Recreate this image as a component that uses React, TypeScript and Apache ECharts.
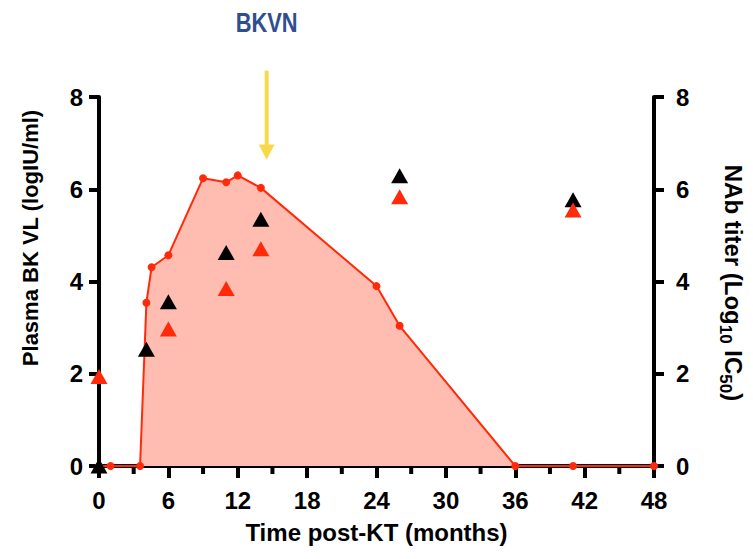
import React, { useEffect, useRef } from "react";
import * as echarts from "echarts";

// Plasma BK viral load (log IU/ml) over time post-KT (months)
const vlMonths = [0, 1, 3.55, 4.1, 4.55, 6, 9, 11, 12, 14, 24, 26, 36, 41, 48];
const vlLog = [0, 0, 0, 3.54, 4.31, 4.57, 6.24, 6.15, 6.3, 6.03, 3.9, 3.04, 0, 0, 0];

// NAb titers (log10 IC50)
const nabBlackMonths = [0, 4.1, 6, 11, 14, 26, 41];
const nabBlackValues = [0, 2.53, 3.56, 4.63, 5.35, 6.29, 5.77];
const nabRedMonths = [0, 6, 11, 14, 26, 41];
const nabRedValues = [1.94, 2.97, 3.85, 4.71, 5.84, 5.55];

const xTicks = [0, 6, 12, 18, 24, 30, 36, 42, 48];
const xMinorTicks = [3, 9, 15, 21, 27, 33, 39, 45];
const yTicks = [0, 2, 4, 6, 8];

const bkvnMonth = 14.5;

const FONT = "'Liberation Sans', Arial, Helvetica, sans-serif";
const RED = "#FF2A0A";
const FILL = "#FFBCB0";

export default function App() {
  const ref = useRef<HTMLDivElement>(null);
  useEffect(() => {
    const chart = echarts.init(ref.current!, null, { renderer: "svg" });
    const axisCommon = {
      type: "value",
      min: 0,
      max: 8,
      interval: 2,
      splitLine: { show: false },
      axisLine: { show: true, lineStyle: { color: "#000", width: 4 } },
      axisTick: { show: true, inside: false, length: 10, lineStyle: { color: "#000", width: 4 } },
      axisLabel: { fontFamily: FONT, fontWeight: "bold", fontSize: 24, color: "#000" },
    };
    const option: any = {
      animation: false,
      backgroundColor: "#fff",
      grid: { left: 99, right: 99, top: 97, bottom: 93 },
      xAxis: {
        type: "value",
        min: 0,
        max: 48,
        interval: 6,
        name: "Time post-KT (months)",
        nameLocation: "middle",
        nameGap: 54,
        nameTextStyle: { fontFamily: FONT, fontWeight: "bold", fontSize: 24, color: "#000" },
        splitLine: { show: false },
        axisLine: { show: true, onZero: false, lineStyle: { color: "#000", width: 4 } },
        axisTick: { show: true, inside: false, length: 12, lineStyle: { color: "#000", width: 4 } },
        axisLabel: {
          fontFamily: FONT,
          fontWeight: "bold",
          fontSize: 24,
          color: "#000",
          margin: 22,
          formatter: (v: number) => (xTicks.includes(v) ? String(v) : ""),
        },
      },
      yAxis: [
        { ...axisCommon, position: "left", axisLabel: { ...axisCommon.axisLabel, margin: 16, formatter: (v: number) => (yTicks.includes(v) ? String(v) : "") } },
        { ...axisCommon, position: "right", axisLabel: { ...axisCommon.axisLabel, margin: 22, formatter: (v: number) => (yTicks.includes(v) ? String(v) : "") } },
      ],
      series: [
        {
          name: "Plasma BK VL",
          type: "line",
          yAxisIndex: 0,
          clip: false,
          data: vlMonths.map((m, i) => [m, vlLog[i]]),
          symbol: "circle",
          symbolSize: 8,
          showSymbol: true,
          itemStyle: { color: RED },
          lineStyle: { color: RED, width: 2 },
          areaStyle: { color: FILL, opacity: 1 },
          z: 2,
        },
        {
          name: "NAb titer (black)",
          type: "scatter",
          yAxisIndex: 1,
          clip: false,
          data: nabBlackMonths.map((m, i) => [m, nabBlackValues[i]]),
          symbol: "triangle",
          symbolSize: [17, 15],
          itemStyle: { color: "#000", opacity: 1 },
          z: 4,
        },
        {
          name: "NAb titer (red)",
          type: "scatter",
          yAxisIndex: 1,
          clip: false,
          data: nabRedMonths.map((m, i) => [m, nabRedValues[i]]),
          symbol: "triangle",
          symbolSize: [17, 15],
          itemStyle: { color: RED, opacity: 1 },
          z: 4,
        },
      ],
    };
    chart.setOption(option);

    const px = (m: number, v: number) => chart.convertToPixel({ gridIndex: 0 }, [m, v]) as number[];
    const top = px(bkvnMonth, 8.57);
    const headTop = px(bkvnMonth, 6.97);
    const tip = px(bkvnMonth, 6.64);
    const ax = top[0];

    const minorTickEls = xMinorTicks.map((m) => {
      const p = px(m, 0);
      return {
        type: "line",
        shape: { x1: p[0], y1: p[1], x2: p[0], y2: p[1] + 8 },
        style: { stroke: "#000", lineWidth: 4 },
      };
    });

    chart.setOption({
      graphic: [
        ...minorTickEls,
        {
          type: "text",
          x: ax,
          y: 22,
          scaleX: 0.78,
          style: {
            text: "BKVN",
            x: 0,
            y: 0,
            textAlign: "center",
            textVerticalAlign: "middle",
            align: "center",
            verticalAlign: "middle",
            fontFamily: FONT,
            fontWeight: "bold",
            fontSize: 28,
            fill: "#2F4E8F",
          },
        },
        {
          type: "line",
          shape: { x1: ax, y1: top[1], x2: ax, y2: headTop[1] + 1 },
          style: { stroke: "#F9D94C", lineWidth: 4 },
        },
        {
          type: "polygon",
          shape: { points: [[ax - 8, headTop[1]], [ax + 8, headTop[1]], [ax, tip[1]]] },
          style: { fill: "#F9D94C" },
        },
        {
          type: "text",
          x: 30,
          y: 238,
          rotation: Math.PI / 2,
          style: {
            text: "Plasma BK VL (logIU/ml)",
            x: 0,
            y: 0,
            textAlign: "center",
            textVerticalAlign: "middle",
            align: "center",
            verticalAlign: "middle",
            fontFamily: FONT,
            fontWeight: "bold",
            fontSize: 22,
            fill: "#000",
          },
        },
        {
          type: "text",
          x: 733,
          y: 283,
          rotation: -Math.PI / 2,
          style: {
            text: "NAb titer (Log{sub|10} IC{sub|50})",
            x: 0,
            y: 0,
            textAlign: "center",
            textVerticalAlign: "middle",
            align: "center",
            verticalAlign: "middle",
            fontFamily: FONT,
            fontWeight: "bold",
            fontSize: 24,
            lineHeight: 32,
            fill: "#000",
            rich: {
              sub: {
                fontFamily: FONT,
                fontWeight: "bold",
                fontSize: 17,
                lineHeight: 32,
                verticalAlign: "bottom",
                fill: "#000",
              },
            },
          },
        },
      ],
    });
    return () => chart.dispose();
  }, []);
  return <div ref={ref} style={{ position: "fixed", left: 0, top: 0, width: 753, height: 559 }} />;
}
